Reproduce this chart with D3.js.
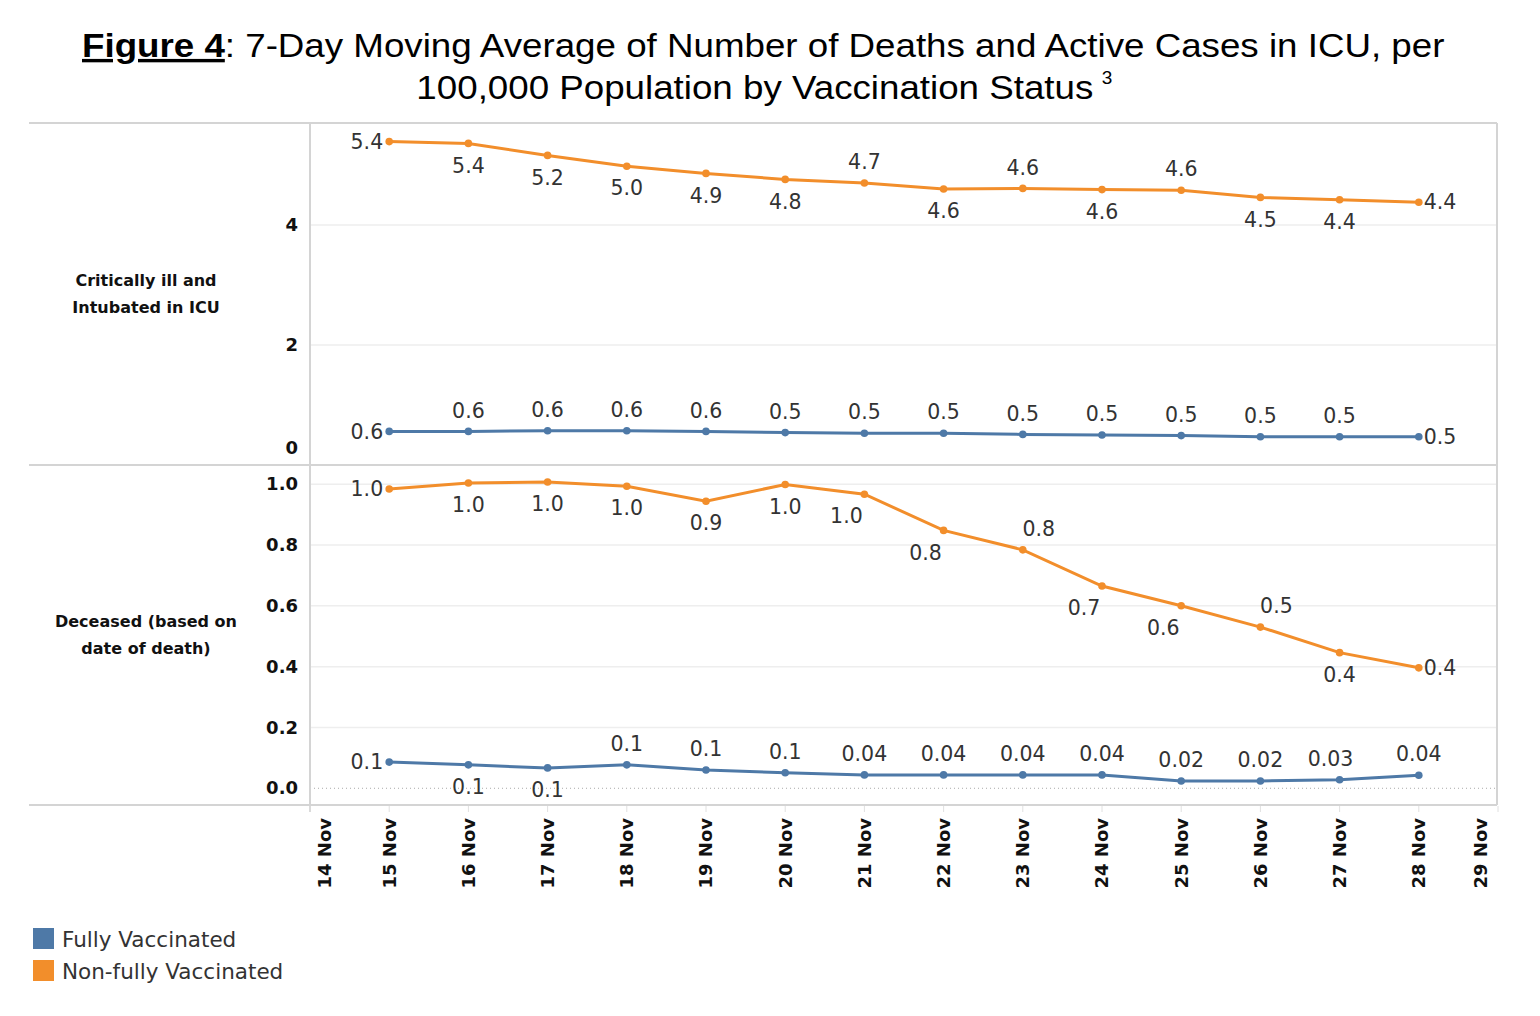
<!DOCTYPE html>
<html lang="en">
<head>
<meta charset="UTF-8">
<title>Figure 4</title>
<script src="https://cdn.jsdelivr.net/npm/d3@7"></script>
<style>
  body { margin: 0; background: #fff; }
</style>
</head>
<body>
<script>
    // days on the x axis (7-day moving average, per 100,000 population)
    const dates = ['2021-11-15', '2021-11-16', '2021-11-17', '2021-11-18', '2021-11-19', '2021-11-20', '2021-11-21',
        '2021-11-22', '2021-11-23', '2021-11-24', '2021-11-25', '2021-11-26', '2021-11-27', '2021-11-28']
    const icuFully = [0.56, 0.56, 0.57, 0.57, 0.56, 0.54, 0.53, 0.53, 0.51, 0.50, 0.49, 0.47, 0.47, 0.47]
    const icuNonFully = [5.39, 5.36, 5.16, 4.98, 4.86, 4.76, 4.70, 4.60, 4.61, 4.59, 4.58, 4.46, 4.42, 4.38]
    const deathFully = [0.086, 0.077, 0.067, 0.077, 0.060, 0.051, 0.044, 0.044, 0.044, 0.044, 0.024, 0.024, 0.028, 0.043]
    const deathNonFully = [0.984, 1.004, 1.007, 0.993, 0.944, 0.999, 0.967, 0.848, 0.784, 0.665, 0.600, 0.530, 0.446, 0.396]

    const seriesNames = ['Fully Vaccinated', 'Non-fully Vaccinated']
    const rowLabels = [['Critically ill and', 'Intubated in ICU'], ['Deceased (based on', 'date of death)']]
    const icuTicks = [0, 2, 4]
    const deathTicks = [0, 0.2, 0.4, 0.6, 0.8, 1.0]
    const colors = ['#4e79a7', '#f28e2b']

    // where each data label sits relative to its point (L left, R right, A above, B below, ...)
    const icuPlace = [
        ['L', 'A', 'A', 'A', 'A', 'A', 'A', 'A', 'A', 'A', 'A', 'A', 'A', 'R'],
        ['L', 'B', 'B', 'B', 'B', 'B', 'A', 'B', 'A', 'B', 'A', 'B', 'B', 'R']
    ]
    const deathPlace = [
        ['L', 'B', 'B', 'A', 'A', 'A', 'A', 'A', 'A', 'A', 'A', 'A', 'AL', 'A'],
        ['L', 'B', 'B', 'B', 'B', 'B', 'BL', 'BL', 'AR', 'BL', 'BL', 'AR', 'B', 'R']
    ]
    const offsets = {
        L: [-6, 0, 'end'], R: [5, 0, 'start'], A: [0, -21, 'middle'], B: [0, 22, 'middle'],
        BL: [-18, 22, 'middle'], AR: [16, -21, 'middle'], AL: [-9, -21, 'middle']
    }

    const [width, height] = [1540, 1016]
    const [left, right] = [310, 1497]
    const sans = '"DejaVu Sans", sans-serif'
    const parse = d3.timeParse('%Y-%m-%d')
    const days = dates.map(parse)

    const x = d3.scaleTime()
        .domain([d3.timeDay.offset(days[0], -1), d3.timeDay.offset(days[days.length - 1], 1)])
        .range([left, right + 1])

    const labelFmt = v => v >= 0.05 ? d3.format('.1f')(v) : d3.format('.2f')(v)

    const panels = [
        {top: 123, bottom: 465, domain: [0, 5.7], ticks: icuTicks, fmt: d3.format('d'),
            series: [icuFully, icuNonFully], place: icuPlace, label: rowLabels[0], labelY: 294},
        {top: 465, bottom: 805, domain: [-0.055, 1.063], ticks: deathTicks, fmt: d3.format('.1f'),
            series: [deathFully, deathNonFully], place: deathPlace, label: rowLabels[1], labelY: 635}
    ]

    const svg = d3.select('body').append('svg')
        .attr('width', width)
        .attr('height', height)

    // title
    const titleFont = '"Liberation Sans", Arial, sans-serif'
    const t1 = svg.append('text').attr('x', 0).attr('y', 57)
        .attr('font-family', titleFont).attr('font-size', 34)
    t1.append('tspan').attr('font-weight', 'bold').attr('text-decoration', 'underline').text('Figure 4')
    t1.append('tspan').text(': 7-Day Moving Average of Number of Deaths and Active Cases in ICU, per')
    const t2 = svg.append('text').attr('x', 0).attr('y', 99)
        .attr('font-family', titleFont).attr('font-size', 34)
    t2.append('tspan').text('100,000 Population by Vaccination Status')
    // fit line 1 to the width it has in the figure, line 2 with the same stretch
    const k = 1363 / t1.node().getComputedTextLength()
    t1.attr('transform', `translate(82,0) scale(${k},1)`)
    const w2 = t2.node().getComputedTextLength() * k
    const x2 = 763 - w2 / 2 - 8
    t2.attr('transform', `translate(${x2},0) scale(${k},1)`)
    svg.append('text')
        .attr('x', x2 + w2 + 8).attr('y', 84)
        .attr('font-family', titleFont).attr('font-size', 19)
        .text('3')

    panels.forEach(p => {
        const y = d3.scaleLinear().domain(p.domain).range([p.bottom, p.top])
        const g = svg.append('g')

        // gridlines
        g.selectAll('line.grid')
            .data(p.ticks.filter(t => y(t) < p.bottom - 1))
            .enter().append('line').attr('class', 'grid')
            .attr('x1', left).attr('x2', right)
            .attr('y1', d => y(d)).attr('y2', d => y(d))
            .attr('stroke', d => d === 0 ? '#aaa' : '#eeeeee')
            .attr('stroke-width', d => d === 0 ? 1 : 1.5)
            .attr('stroke-dasharray', d => d === 0 ? '1,3' : null)

        // y tick labels
        g.selectAll('text.tick')
            .data(p.ticks)
            .enter().append('text').attr('class', 'tick')
            .attr('x', 298)
            .attr('y', d => Math.min(y(d), p.bottom - 17))
            .attr('dy', '0.35em')
            .attr('text-anchor', 'end')
            .attr('font-family', sans)
            .attr('font-size', 18)
            .attr('font-weight', 700)
            .attr('fill', '#111')
            .text(p.fmt)

        // row header
        g.selectAll('text.row')
            .data(p.label)
            .enter().append('text').attr('class', 'row')
            .attr('x', 146)
            .attr('y', (d, i) => p.labelY + (i - 0.5) * 27)
            .attr('dy', '0.35em')
            .attr('text-anchor', 'middle')
            .attr('font-family', sans)
            .attr('font-size', 16)
            .attr('font-weight', 700)
            .attr('fill', '#111')
            .text(d => d)

        const line = d3.line()
            .x((d, i) => x(days[i]))
            .y(d => y(d))

        p.series.forEach((values, s) => {
            g.append('path')
                .datum(values)
                .attr('fill', 'none')
                .attr('stroke', colors[s])
                .attr('stroke-width', 3)
                .attr('d', line)
            g.append('g').selectAll('circle').data(values)
                .enter().append('circle')
                .attr('cx', (d, i) => x(days[i]))
                .attr('cy', d => y(d))
                .attr('r', 3.8)
                .attr('fill', colors[s])
            g.append('g').selectAll('text').data(values)
                .enter().append('text')
                .attr('x', (d, i) => x(days[i]) + offsets[p.place[s][i]][0])
                .attr('y', (d, i) => y(d) + offsets[p.place[s][i]][1])
                .attr('dy', '0.35em')
                .attr('text-anchor', (d, i) => offsets[p.place[s][i]][2])
                .attr('font-family', sans)
                .attr('font-size', 20.5)
                .attr('fill', '#333')
                .text(labelFmt)
        })
    })

    // frame
    const frame = svg.append('g').attr('stroke', '#d4d4d4').attr('stroke-width', 2)
    ;[123, 465, 805].forEach(yy => {
        frame.append('line').attr('x1', 29).attr('x2', right).attr('y1', yy).attr('y2', yy)
    })
    frame.append('line').attr('x1', left).attr('x2', left).attr('y1', 123).attr('y2', 812)
    frame.append('line').attr('x1', right).attr('x2', right).attr('y1', 123).attr('y2', 805)

    // x axis
    const axisDays = d3.timeDay.range(x.domain()[0], d3.timeDay.offset(x.domain()[1], 1))
    const xa = svg.append('g')
    xa.selectAll('line').data(axisDays).enter().append('line')
        .attr('x1', d => x(d)).attr('x2', d => x(d))
        .attr('y1', 806).attr('y2', 812)
        .attr('stroke', '#e0e0e0')
    xa.selectAll('text').data(axisDays).enter().append('text')
        .attr('transform', d => `translate(${Math.max(325, Math.min(1481, x(d)))},818) rotate(-90)`)
        .attr('dy', '0.35em')
        .attr('text-anchor', 'end')
        .attr('font-family', sans)
        .attr('font-size', 18)
        .attr('font-weight', 700)
        .attr('fill', '#111')
        .text(d3.timeFormat('%-d %b'))

    // legend
    const legend = svg.append('g').selectAll('g').data(seriesNames).enter().append('g')
        .attr('transform', (d, i) => `translate(33,${928 + i * 32})`)
    legend.append('rect').attr('width', 21).attr('height', 21).attr('fill', (d, i) => colors[i])
    legend.append('text')
        .attr('x', 29).attr('y', 11).attr('dy', '0.35em')
        .attr('font-family', sans)
        .attr('font-size', 21.5)
        .attr('fill', '#333')
        .text(d => d)
</script>
</body>
</html>
